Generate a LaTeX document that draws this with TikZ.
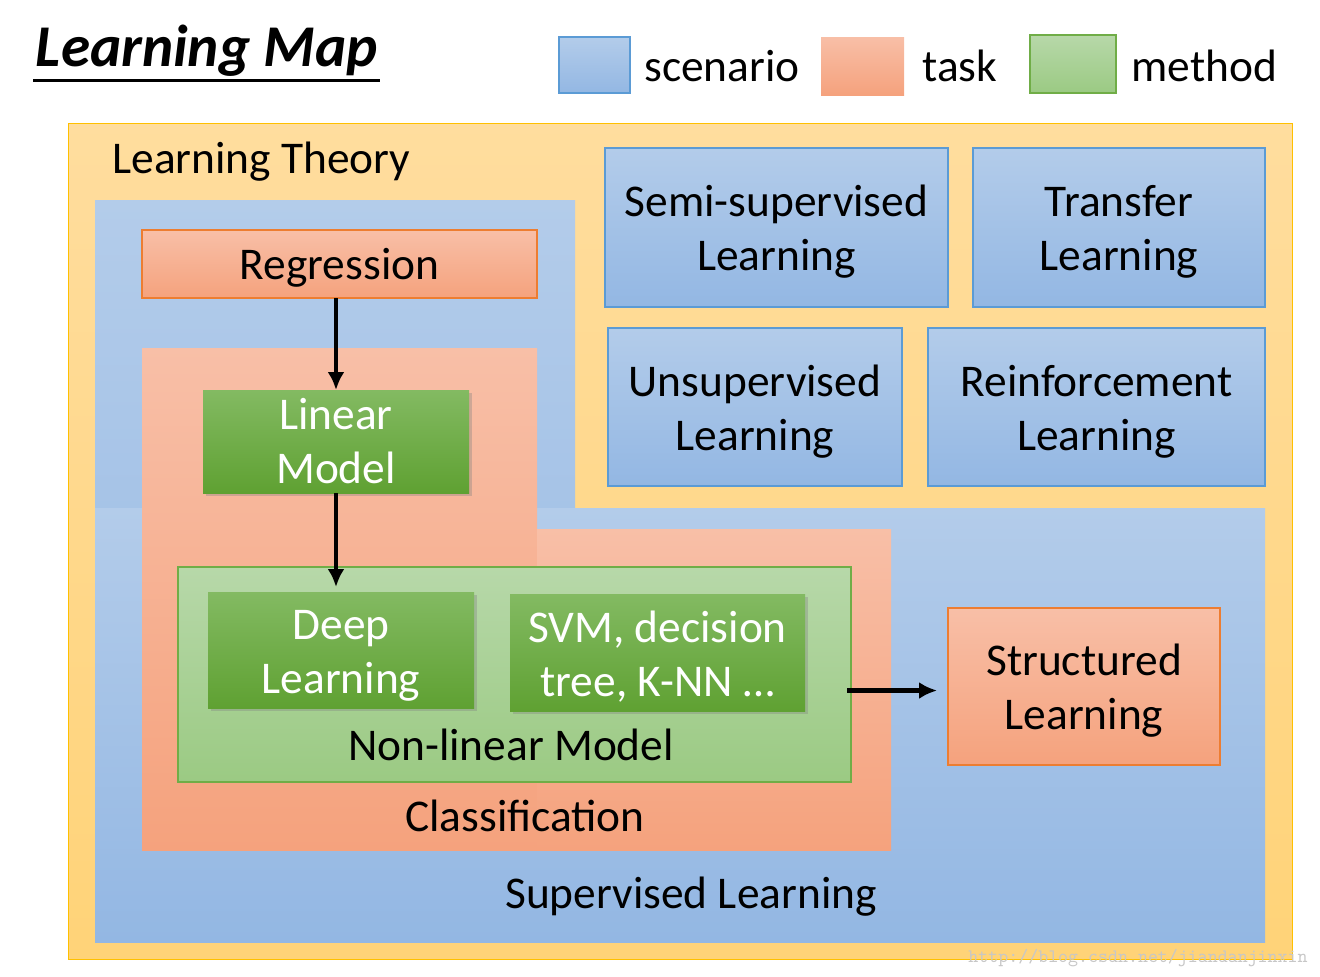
\documentclass[tikz,border=0pt]{standalone}
\usepackage{fontspec}
\setmainfont{Carlito}
\usetikzlibrary{arrows.meta,shadows}

\definecolor{yeltop}{HTML}{FFDD9E}
\definecolor{yelbot}{HTML}{FFD378}
\definecolor{yelline}{HTML}{FFC000}
\definecolor{sctop}{HTML}{B3CCEA}
\definecolor{scbot}{HTML}{93B7E3}
\definecolor{scline}{HTML}{5B9BD5}
\definecolor{tktop}{HTML}{F8BFA7}
\definecolor{tkbot}{HTML}{F5A27D}
\definecolor{tkline}{HTML}{ED7D31}
\definecolor{metop}{HTML}{83BA62}
\definecolor{mebot}{HTML}{5FA132}
\definecolor{nltop}{HTML}{B7D8A9}
\definecolor{nlbot}{HTML}{9BCA83}
\definecolor{nlline}{HTML}{70AD47}

\tikzset{wh/.style 2 args={minimum width=#1*0.5pt, minimum height=#2*0.5pt},
  lift/.style={execute at begin node={\rule{0pt}{#1}}}}

\begin{document}
\begin{tikzpicture}[x=0.5pt, y=-0.5pt, >={Latex[length=9pt,width=8.5pt]}, font=\fontsize{22.7}{27}\selectfont]
      \tikzstyle{box}=[rectangle, inner sep=0pt, outer sep=0pt, align=center, line width=0.6pt]
      \tikzstyle{scenario}=[box, draw=scline, top color=sctop, bottom color=scbot, lift=47pt]
      \tikzstyle{task}=[box, draw=tkline, top color=tktop, bottom color=tkbot]
      \tikzstyle{method}=[box, top color=metop, bottom color=mebot, text=white,
        drop shadow={opacity=0.35, shadow xshift=1.5pt, shadow yshift=-1.5pt}]
      \tikzstyle{caption}=[inner sep=0pt, anchor=base west]
      \tikzstyle{conn}=[->, line width=2.4pt]
      \useasboundingbox (0,0) rectangle (1320,976);
      % title and legend
      \node[anchor=base, font=\fontsize{29.6}{34}\bfseries\itshape\selectfont] (title) at (207,66) {Learning Map};
      \draw[line width=1.5pt] (33,80.5) -- (380,80.5);
      \node[box, wh={71}{56}, draw=scline, top color=sctop, bottom color=scbot] (lsc) at (594.5,65) {};
      \node[box, wh={83}{58}, top color=tktop, bottom color=tkbot] (ltk) at (862.5,66) {};
      \node[box, wh={86}{58}, draw=nlline, top color=nltop, bottom color=nlbot] (lme) at (1073,64) {};
      \node[caption] (tsc) at (644,81) {scenario};
      \node[caption] (ttk) at (922,81) {task};
      \node[caption] (tme) at (1131,81) {method};
      % regions
      \shade[top color=yeltop, bottom color=yelbot, draw=yelline] (68,123) rectangle (1292,959);
      \node[caption] (theory) at (112,173) {Learning Theory};
      \shade[top color=sctop, bottom color=sctop!60!scbot] (95,200) rectangle (575,508);
      \shade[top color=sctop, bottom color=scbot] (95,508) rectangle (1265,942);
      \shade[top color=tktop, bottom color=tkbot] (142,348) rectangle (537,850);
      \shade[top color=tktop, bottom color=tkbot] (537,529) rectangle (891,850);
      \node (sup) at (691,897) {Supervised Learning};
      \node (cls) at (525,816) {Classification};
      % boxes
      \node[task, wh={395}{68}, lift=19.5pt] (reg) at (339.5,264) {Regression};
      \node[method, wh={266}{103}] (lin) at (336,441.5) {Linear\\Model};
      \node[box, wh={673}{215}, draw=nlline, top color=nltop, bottom color=nlbot] (nonlin) at (514.5,674.5) {};
      \node (nltext) at (511,745) {Non-linear Model};
      \node[method, wh={266}{116}, lift=47pt] (deep) at (341,650) {Deep\\Learning};
      \node[method, wh={295}{117}, lift=47pt] (svm) at (657.5,652.5) {SVM, decision\\tree, K-NN \dots};
      \node[task, wh={272}{157}, lift=47pt] (struct) at (1084,686.5) {Structured\\Learning};
      \node[scenario, wh={343}{159}] (semi) at (776.5,227.5) {Semi-supervised\\Learning};
      \node[scenario, wh={292}{159}] (trans) at (1119,227.5) {Transfer\\Learning};
      \node[scenario, wh={294}{158}] (unsup) at (755,407) {Unsupervised\\Learning};
      \node[scenario, wh={337}{158}] (reinf) at (1096.5,407) {Reinforcement\\Learning};
      % arrows
      \draw[conn] (lin.north |- reg.south) -- (lin.north);
      \draw[conn, shorten >=2.5pt] (lin.south) -- (lin.south |- deep.north);
      \draw[conn, shorten <=-2pt, shorten >=5.5pt] ([yshift=-2pt]nonlin.east |- struct.west) -- ([yshift=-2pt]struct.west);
      \node[anchor=base east, inner sep=0pt, font=\ttfamily\fontsize{9.5}{11}\selectfont, text=black!22] (wm) at (1308,962) {http://blog.csdn.net/jiandanjinxin};
    \end{tikzpicture}
\end{document}
